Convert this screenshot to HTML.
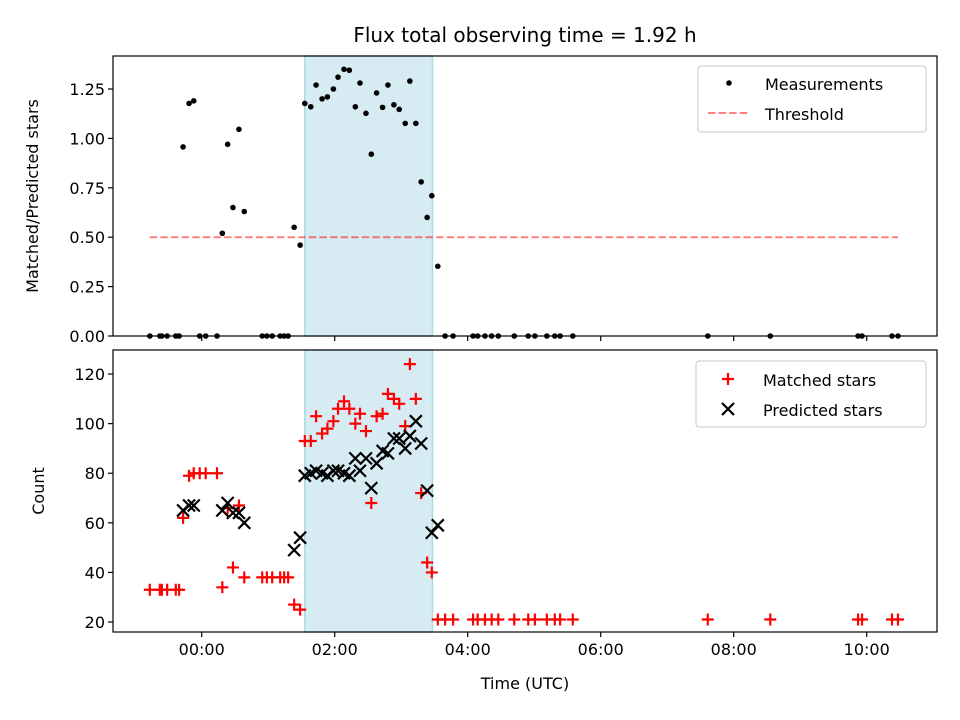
<!DOCTYPE html>
<html><head><meta charset="utf-8"><style>
html,body{margin:0;padding:0;background:#fff}
svg{display:block;font-family:"DejaVu Sans","Liberation Sans",sans-serif}
</style></head><body>
<svg id="fig" width="960" height="720" viewBox="0 0 960 720" xmlns="http://www.w3.org/2000/svg"></svg>
<script>
const times = [-0.78,-0.63,-0.60,-0.52,-0.39,-0.34,-0.28,-0.19,-0.12,-0.03,0.06,0.23,0.31,0.39,0.47,0.56,0.64,0.91,0.98,1.06,1.18,1.24,1.30,1.39,1.48,
1.55,1.64,1.72,1.81,1.89,1.98,2.05,2.14,2.22,2.31,2.38,2.47,2.55,2.63,2.72,2.80,2.89,2.97,3.06,3.13,3.22,3.30,3.39,3.46,3.55,
3.66,3.78,4.08,4.15,4.26,4.36,4.46,4.70,4.91,5.01,5.19,5.31,5.39,5.58,7.61,8.55,9.87,9.93,10.38,10.47];
const ratios = [0,0,0,0,0,0,0.957,1.177,1.19,0,0,0,0.52,0.97,0.65,1.046,0.63,0,0,0,0,0,0,0.55,0.46,
1.177,1.16,1.27,1.2,1.21,1.25,1.31,1.35,1.345,1.16,1.28,1.127,0.92,1.23,1.157,1.27,1.17,1.147,1.076,1.29,1.076,0.78,0.60,0.71,0.353,
0,0,0,0,0,0,0,0,0,0,0,0,0,0,0,0,0,0,0,0];
const matched = [33,33,33,33,33,33,62,79,80,80,80,80,34,66,42,67,38,38,38,38,38,38,38,27,25,
93,93,103,96,98,101,106,109,106,100,104,97,68,103,104,112,110,108,99,124,110,72,44,40,21,
21,21,21,21,21,21,21,21,21,21,21,21,21,21,21,21,21,21,21,21];
const predicted = [null,null,null,null,null,null,65,67,67,null,null,null,65,68,64,64,60,null,null,null,null,null,null,49,54,
79,80,81,80,79,81,81,80,79,86,81,86,74,84,89,88,94,94,90,95,101,92,73,56,59,
null,null,null,null,null,null,null,null,null,null,null,null,null,null,null,null,null,null,null,null];
const threshold = 0.5;
const thresholdRange = [-0.78, 10.47];
const band = [1.55, 3.47];
const xTicks = [0,2,4,6,8,10];
const xTickLabels = ["00:00","02:00","04:00","06:00","08:00","10:00"];
const yTopTicks = [0,0.25,0.5,0.75,1.0,1.25];
const yTopLabels = ["0.00","0.25","0.50","0.75","1.00","1.25"];
const yBotTicks = [20,40,60,80,100,120];

const NS="http://www.w3.org/2000/svg";
const svg=document.getElementById('fig');
function mk(tag,attrs,parent){const e=document.createElementNS(NS,tag);for(const k in attrs)e.setAttribute(k,attrs[k]);(parent||svg).appendChild(e);return e;}
const L=113,R=937;
const xs=t=>L+(t-(-1.334))/(11.057-(-1.334))*(R-L);
const T1=56,B1=336, T2=350,B2=632;
const yTop=v=>B1-v/1.417*(B1-T1);
const yBot=v=>B2-(v-15.97)/(129.7-15.97)*(B2-T2);

function text(x,y,s,attrs,name){const t=mk('text',Object.assign({x:x,y:y,'font-size':16,fill:'#000'},attrs));t.textContent=s;

return t;}

text(525,42,"Flux total observing time = 1.92 h",{'font-size':20,'text-anchor':'middle'},'chart-title');

function panel(T,B,name){
  const g=mk('g',{});
  
  
  const bd=mk('rect',{x:xs(band[0]),y:T,width:xs(band[1])-xs(band[0]),height:B-T,fill:'#add8e6','fill-opacity':0.5,stroke:'#add8e6','stroke-width':1.5},g);
  
  
  return g;
}
function frame(T,B,name,showLabels){
  const f=mk('rect',{x:L,y:T,width:R-L,height:B-T,fill:'none',stroke:'#000','stroke-width':1.2});
  
  
  xTicks.forEach((t,i)=>{
    const x=xs(t);
    const tk=mk('line',{x1:x,x2:x,y1:B,y2:B+5,stroke:'#000','stroke-width':1.2});
    
    
    if(showLabels) text(x,B+23,xTickLabels[i],{'text-anchor':'middle'},'x-tick-label');
  });
}

const gTop=panel(T1,B1,'top-panel');
const th=mk('line',{x1:xs(thresholdRange[0]),x2:xs(thresholdRange[1]),y1:yTop(threshold),y2:yTop(threshold),stroke:'#ff0000','stroke-opacity':0.5,'stroke-width':2,'stroke-dasharray':'7.4,3.2'},gTop);


times.forEach((t,i)=>{
  const c=mk('circle',{cx:xs(t),cy:yTop(ratios[i]),r:2.8,fill:'#000'},gTop);
  
  
});
frame(T1,B1,'top-axes-frame',false);
yTopTicks.forEach((v,i)=>{
  const y=yTop(v);
  const tk=mk('line',{x1:L-5,x2:L,y1:y,y2:y,stroke:'#000','stroke-width':1.2});
  
  
  text(L-8,y+6,yTopLabels[i],{'text-anchor':'end'},'y-tick-label');
});
text(38,196,"Matched/Predicted stars",{'text-anchor':'middle',transform:'rotate(-90 38 196)'},'top-y-axis-title');

const gBot=panel(T2,B2,'bottom-panel');
times.forEach((t,i)=>{
  const x=xs(t),y=yBot(matched[i]);
  const p=mk('path',{d:`M${x-6},${y}H${x+6}M${x},${y-6}V${y+6}`,stroke:'#ff0000','stroke-width':2.2,fill:'none'},gBot);
  
  
});
times.forEach((t,i)=>{
  if(predicted[i]===null) return;
  const x=xs(t),y=yBot(predicted[i]);
  const p=mk('path',{d:`M${x-6},${y-6}L${x+6},${y+6}M${x-6},${y+6}L${x+6},${y-6}`,stroke:'#000','stroke-width':2.2,fill:'none'},gBot);
  
  
});
frame(T2,B2,'bottom-axes-frame',true);
yBotTicks.forEach(v=>{
  const y=yBot(v);
  const tk=mk('line',{x1:L-5,x2:L,y1:y,y2:y,stroke:'#000','stroke-width':1.2});
  
  
  text(L-8,y+6,String(v),{'text-anchor':'end'},'y-tick-label');
});
text(44,491,"Count",{'text-anchor':'middle',transform:'rotate(-90 44 491)'},'bottom-y-axis-title');
text(525,689,"Time (UTC)",{'text-anchor':'middle'},'x-axis-title');

function legend(x,y,w,h,name){
  const g=mk('g',{});
  
  
  mk('rect',{x:x,y:y,width:w,height:h,rx:3,fill:'#fff','fill-opacity':0.8,stroke:'#d0d0d0','stroke-width':1.2},g);
  return g;
}
const lg1=legend(698,66,228,66,'top-legend');
const ld=mk('circle',{cx:729,cy:83,r:2.8,fill:'#000'},lg1);


text(765,90,"Measurements",{},'legend-measurements-label');
const ll=mk('line',{x1:708,x2:748,y1:113,y2:113,stroke:'#ff0000','stroke-opacity':0.5,'stroke-width':2,'stroke-dasharray':'7.4,3.2'},lg1);


text(765,120,"Threshold",{},'legend-threshold-label');

const lg2=legend(696,361,230,66,'bottom-legend');
const lp=mk('path',{d:'M722,379H734M728,373V385',stroke:'#ff0000','stroke-width':2.2},lg2);


text(763,386,"Matched stars",{},'legend-matched-label');
const lx=mk('path',{d:'M722,403L734,415M722,415L734,403',stroke:'#000','stroke-width':2.2},lg2);


text(763,416,"Predicted stars",{},'legend-predicted-label');
</script>
</body></html>
